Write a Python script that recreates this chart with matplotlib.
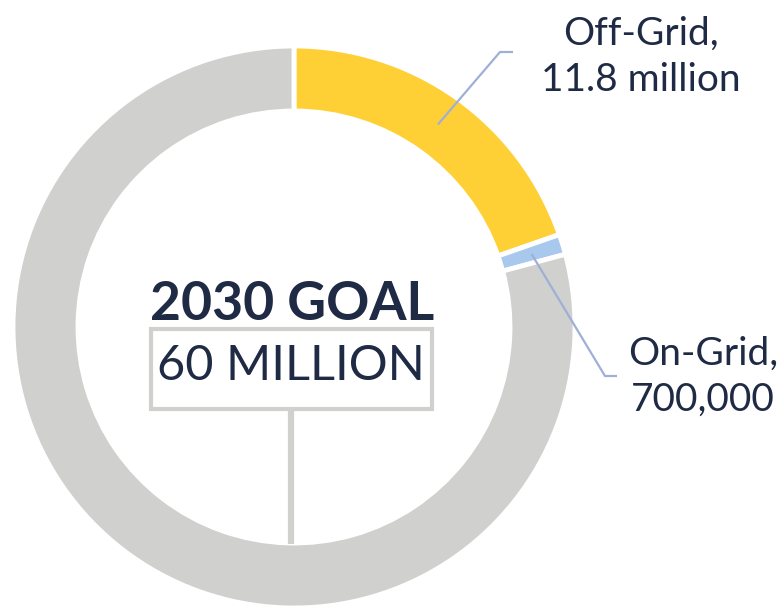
import numpy as np
import matplotlib
matplotlib.use("Agg")
import matplotlib.pyplot as plt
from matplotlib.patches import Rectangle

plt.rcParams['font.family'] = ['Lato', 'DejaVu Sans']

# values in millions, 2030 goal = 60 million
labels = ['Off-Grid,\n11.8 million', 'On-Grid,\n700,000', '']
values = [11.8, 0.7, 60 - 11.8 - 0.7]
colors = ['#ffd035', '#a9c8ee', '#d0d0ce']
navy = '#1f2a44'
leader = '#9fb0d6'

W, H = 784, 606
fig = plt.figure(figsize=(W / 100, H / 100), dpi=100)
ax = fig.add_axes([0, 0, 1, 1])
ax.set_aspect('equal')

cx, cy = 294, H - 327
R, ring = 281, 65

wedges, _ = ax.pie(values, colors=colors, startangle=90, counterclock=False,
                   radius=R, center=(cx, cy), frame=True,
                   wedgeprops=dict(width=ring, edgecolor='white', linewidth=3.5))
ax.set_xlim(0, W)
ax.set_ylim(0, H)
ax.axis('off')

# leader lines + labels
elbows = [(206, 275, 13), (311, -49, 12)]
text_pos = [(641, H - 45), (703, H - 365)]
for w, lab, (ex, ey, hl), (tx, ty) in zip(wedges[:2], labels[:2], elbows, text_pos):
    ang = np.deg2rad((w.theta1 + w.theta2) / 2)
    rm = R - ring / 2
    ax_, ay_ = cx + rm * np.cos(ang), cy + rm * np.sin(ang)
    ax.plot([ax_, cx + ex, cx + ex + hl], [ay_, cy + ey, cy + ey],
            color=leader, lw=1.6, solid_capstyle='butt', zorder=5)
    l1, l2 = lab.split('\n')
    ax.text(tx, ty, l1, ha='center', va='baseline', fontsize=28, color=navy)
    ax.text(tx, ty - 46, l2, ha='center', va='baseline', fontsize=28, color=navy)

# centre: box with goal and stem down to the ring
ax.plot([291, 291], [H - 410, H - 544], color='#d0d0ce', lw=4.5,
        solid_capstyle='butt', zorder=1)
ax.add_patch(Rectangle((151.5, H - 408.5), 281, 80, fill=False,
                       edgecolor='#d0d0ce', lw=3))
ax.text(292, H - 320, '2030 GOAL', ha='center', va='baseline',
        fontsize=38.5, fontweight='bold', color=navy)
ax.text(291, H - 380, '60 MILLION', ha='center', va='baseline',
        fontsize=35, color=navy)

fig.savefig('out.png', dpi=100)
